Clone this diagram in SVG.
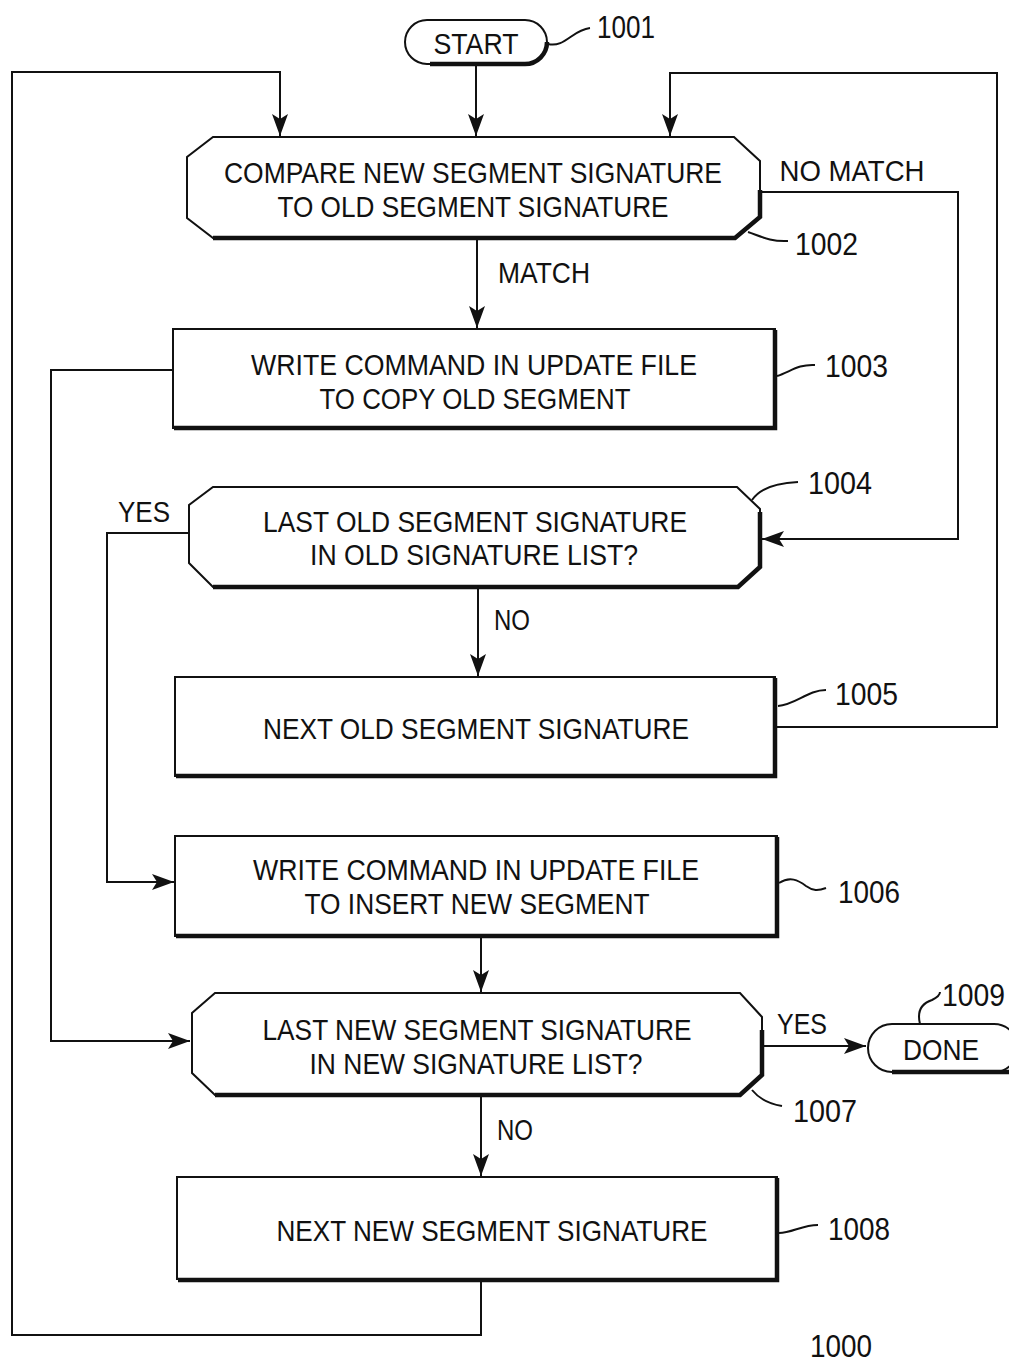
<svg xmlns="http://www.w3.org/2000/svg" width="1009" height="1363" viewBox="0 0 1009 1363">
<style>
.s{fill:#fff;stroke:#111;stroke-width:2}
.sh{fill:none;stroke:#111;stroke-width:4.5;stroke-linejoin:miter}
.c{fill:none;stroke:#111;stroke-width:2}
.t{font-family:"Liberation Sans",Arial,sans-serif;font-size:30px;fill:#111;text-anchor:middle}
.n{font-family:"Liberation Sans",Arial,sans-serif;font-size:31px;fill:#111}
</style>
<defs>
<marker id="ah" markerUnits="userSpaceOnUse" markerWidth="22" markerHeight="16" refX="22" refY="8" orient="auto">
<path d="M0,0 L22,8 L0,16 L5,8 Z" fill="#111"/>
</marker>
</defs>
<rect width="1009" height="1363" fill="#fff"/>

<g id="connectors">
<path class="c" d="M476,64 V136" marker-end="url(#ah)"/>
<path class="c" d="M481,1281 V1335 H12 V72 H280 V136" marker-end="url(#ah)"/>
<path class="c" d="M776,727 H997 V73 H670 V136" marker-end="url(#ah)"/>
<path class="c" d="M760,192 H958 V539 H762" marker-end="url(#ah)"/>
<path class="c" d="M477,239 V328" marker-end="url(#ah)"/>
<path class="c" d="M173,370 H51 V1041 H190" marker-end="url(#ah)"/>
<path class="c" d="M189,533 H107 V882 H174" marker-end="url(#ah)"/>
<path class="c" d="M478,588 V676" marker-end="url(#ah)"/>
<path class="c" d="M481,938 V992" marker-end="url(#ah)"/>
<path class="c" d="M762,1046 H866" marker-end="url(#ah)"/>
<path class="c" d="M481,1096 V1176" marker-end="url(#ah)"/>
</g>

<g id="n1001">
<rect class="s" x="405" y="20" width="142" height="44" rx="22"/>
<path class="sh" d="M547,42 A22,22 0 0 1 525,64 H430"/>
<text class="t" x="476" y="54" font-size="32" textLength="85" lengthAdjust="spacingAndGlyphs">START</text>
<path class="c" d="M548,44 C565,48 572,30 590,28"/>
<text class="n" x="597" y="38" textLength="58" lengthAdjust="spacingAndGlyphs">1001</text>
</g>

<g id="n1002">
<path class="s" d="M213,137 H734 L760,161 V217 L735,238 H213 L187,218 V157 Z"/>
<path class="sh" d="M760,190 V217 L735,238 H213"/>
<text class="t" x="473" y="183" textLength="498" lengthAdjust="spacingAndGlyphs">COMPARE NEW SEGMENT SIGNATURE</text>
<text class="t" x="473" y="217" textLength="391" lengthAdjust="spacingAndGlyphs">TO OLD SEGMENT SIGNATURE</text>
<text class="t" x="852" y="181" textLength="145" lengthAdjust="spacingAndGlyphs">NO MATCH</text>
<path class="c" d="M748,232 C760,236 770,242 788,241"/>
<text class="n" x="795" y="255" textLength="63" lengthAdjust="spacingAndGlyphs">1002</text>
<text class="t" x="544" y="283" textLength="92" lengthAdjust="spacingAndGlyphs">MATCH</text>
</g>

<g id="n1003">
<rect class="s" x="173" y="329" width="602" height="99"/>
<path class="sh" d="M775,330 V428 H174"/>
<text class="t" x="474" y="375" textLength="446" lengthAdjust="spacingAndGlyphs">WRITE COMMAND IN UPDATE FILE</text>
<text class="t" x="475" y="409" textLength="311" lengthAdjust="spacingAndGlyphs">TO COPY OLD SEGMENT</text>
<path class="c" d="M777,376 C790,372 798,364 815,365"/>
<text class="n" x="825" y="377" textLength="63" lengthAdjust="spacingAndGlyphs">1003</text>
</g>

<g id="n1004">
<path class="s" d="M213,487 H737 L760,509 V567 L738,587 H213 L189,563 V505 Z"/>
<path class="sh" d="M760,512 V567 L738,587 H213"/>
<text class="t" x="475" y="532" textLength="424" lengthAdjust="spacingAndGlyphs">LAST OLD SEGMENT SIGNATURE</text>
<text class="t" x="474" y="565" textLength="328" lengthAdjust="spacingAndGlyphs">IN OLD SIGNATURE LIST?</text>
<path class="c" d="M752,500 C760,488 775,483 798,482"/>
<text class="n" x="808" y="494" textLength="64" lengthAdjust="spacingAndGlyphs">1004</text>
<text class="t" x="144" y="522" textLength="52" lengthAdjust="spacingAndGlyphs">YES</text>
<text class="t" x="512" y="630" textLength="36" lengthAdjust="spacingAndGlyphs">NO</text>
</g>

<g id="n1005">
<rect class="s" x="175" y="677" width="600" height="99"/>
<path class="sh" d="M775,678 V776 H176"/>
<text class="t" x="476" y="739" textLength="426" lengthAdjust="spacingAndGlyphs">NEXT OLD SEGMENT SIGNATURE</text>
<path class="c" d="M778,706 C795,705 808,690 826,690"/>
<text class="n" x="835" y="705" textLength="63" lengthAdjust="spacingAndGlyphs">1005</text>
</g>

<g id="n1006">
<rect class="s" x="175" y="836" width="602" height="100"/>
<path class="sh" d="M777,837 V936 H176"/>
<text class="t" x="476" y="880" textLength="446" lengthAdjust="spacingAndGlyphs">WRITE COMMAND IN UPDATE FILE</text>
<text class="t" x="477" y="914" textLength="345" lengthAdjust="spacingAndGlyphs">TO INSERT NEW SEGMENT</text>
<path class="c" d="M779,883 C790,876 798,880 806,886 C813,891 818,891 826,888"/>
<text class="n" x="838" y="903" textLength="62" lengthAdjust="spacingAndGlyphs">1006</text>
</g>

<g id="n1007">
<path class="s" d="M215,993 H740 L762,1017 V1075 L740,1095 H215 L192,1073 V1013 Z"/>
<path class="sh" d="M762,1030 V1075 L740,1095 H215"/>
<text class="t" x="477" y="1040" textLength="429" lengthAdjust="spacingAndGlyphs">LAST NEW SEGMENT SIGNATURE</text>
<text class="t" x="476" y="1074" textLength="333" lengthAdjust="spacingAndGlyphs">IN NEW SIGNATURE LIST?</text>
<path class="c" d="M752,1090 C760,1100 770,1104 782,1106"/>
<text class="n" x="793" y="1122" textLength="64" lengthAdjust="spacingAndGlyphs">1007</text>
<text class="t" x="802" y="1034" textLength="50" lengthAdjust="spacingAndGlyphs">YES</text>
<text class="t" x="515" y="1140" textLength="36" lengthAdjust="spacingAndGlyphs">NO</text>
</g>

<g id="n1009">
<rect class="s" x="868" y="1024" width="150" height="48" rx="24"/>
<path class="sh" d="M1009,1072 H892"/>
<text class="t" x="941" y="1060" font-size="32" textLength="76" lengthAdjust="spacingAndGlyphs">DONE</text>
<path class="c" d="M920,1024 C917,1012 920,1004 932,1000 C938,997 940,994 940,992"/>
<text class="n" x="942" y="1006" textLength="63" lengthAdjust="spacingAndGlyphs">1009</text>
</g>

<g id="n1008">
<rect class="s" x="177" y="1177" width="600" height="102"/>
<path class="sh" d="M777,1178 V1280 H178"/>
<text class="t" x="492" y="1241" textLength="431" lengthAdjust="spacingAndGlyphs">NEXT NEW SEGMENT SIGNATURE</text>
<path class="c" d="M779,1233 C792,1233 802,1225 818,1225"/>
<text class="n" x="828" y="1240" textLength="62" lengthAdjust="spacingAndGlyphs">1008</text>
</g>

<g id="label1000">
<text class="n" x="810" y="1357" textLength="62" lengthAdjust="spacingAndGlyphs">1000</text>
</g>
</svg>
